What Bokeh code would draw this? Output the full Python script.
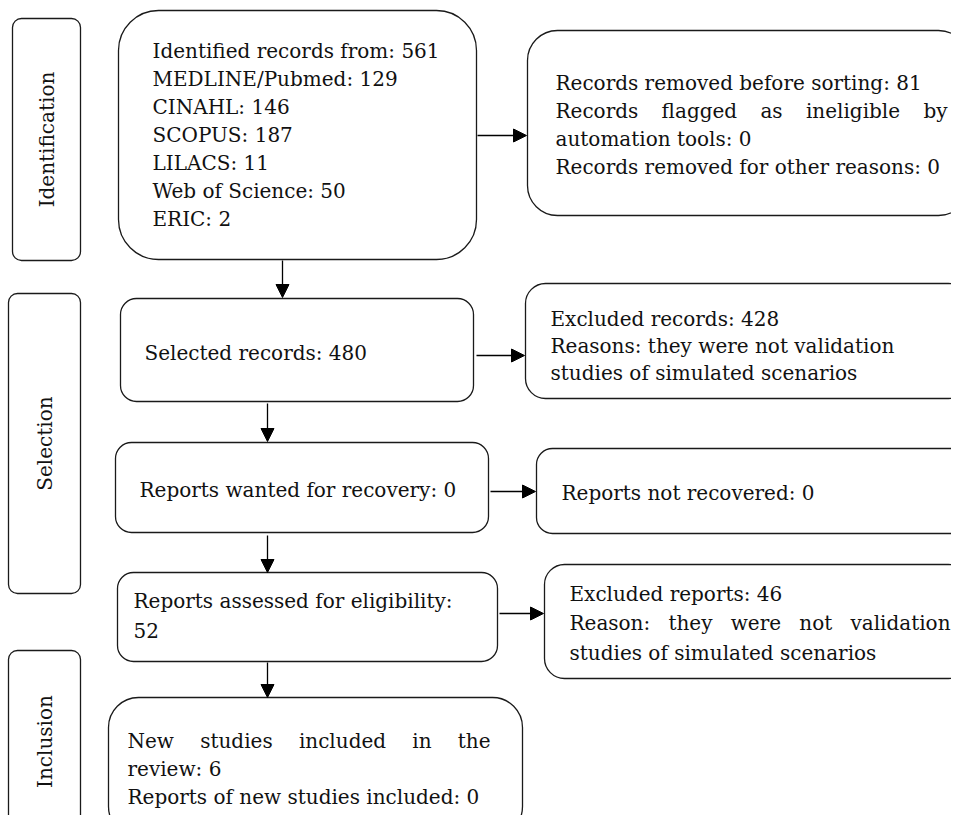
import glob
import math
from bokeh.plotting import figure
from bokeh.models import Range1d, Arrow, NormalHead
from bokeh.core.properties import value
from bokeh.embed import file_html
from bokeh.resources import INLINE

# ---------------- data ----------------
stages = ["Identification", "Selection", "Inclusion"]
identified_total = 561
sources = ["MEDLINE/Pubmed", "CINAHL", "SCOPUS", "LILACS", "Web of Science", "ERIC"]
source_counts = [129, 146, 187, 11, 50, 2]
removed_before = 81
flagged_automation = 0
removed_other = 0
selected_records = 480
excluded_records = 428
reports_wanted = 0
reports_not_recovered = 0
reports_assessed = 52
excluded_reports = 46
new_studies = 6
new_reports = 0

# texts per box: (line, justified)
box_texts = {
    "ident": [(f"Identified records from: {identified_total}", False)]
             + [(f"{s}: {c}", False) for s, c in zip(sources, source_counts)],
    "removed": [(f"Records removed before sorting: {removed_before}", False),
                ("Records flagged as ineligible by", True),
                (f"automation tools: {flagged_automation}", False),
                (f"Records removed for other reasons: {removed_other}", False)],
    "selected": [(f"Selected records: {selected_records}", False)],
    "excl_rec": [(f"Excluded records: {excluded_records}", False),
                 ("Reasons: they were not validation", False),
                 ("studies of simulated scenarios", False)],
    "wanted": [(f"Reports wanted for recovery: {reports_wanted}", False)],
    "notrec": [(f"Reports not recovered: {reports_not_recovered}", False)],
    "assessed": [("Reports assessed for eligibility:", True),
                 (f"{reports_assessed}", False)],
    "excl_rep": [(f"Excluded reports: {excluded_reports}", False),
                 ("Reason: they were not validation", True),
                 ("studies of simulated scenarios", False)],
    "included": [("New studies included in the", True),
                 (f"review: {new_studies}", False),
                 (f"Reports of new studies included: {new_reports}", False)],
}

# ---------------- layout (picture pixels) ----------------
# name: (x0, y0, x1, y1, corner radius)
boxes = {
    "lab_ident": (12, 18, 80, 260, 9),
    "lab_sel": (8, 293, 80, 593, 9),
    "lab_inc": (8, 650, 80, 836, 9),
    "ident": (118, 10, 476, 259, 40),
    "removed": (527, 30, 968, 215, 30),
    "selected": (120, 298, 473, 401, 16),
    "excl_rec": (525, 283, 968, 398, 20),
    "wanted": (115, 442, 488, 532, 16),
    "notrec": (536, 448, 968, 533, 16),
    "assessed": (117, 572, 497, 661, 16),
    "excl_rep": (544, 564, 968, 678, 20),
    "included": (108, 697, 522, 836, 30),
}
# name: (text left, first line centre y, line step, justify right edge)
text_layout = {
    "ident": (152, 50, 28, None),
    "removed": (555, 82, 28.3, 947),
    "selected": (144, 352, 28, None),
    "excl_rec": (550, 318, 27, None),
    "wanted": (139, 489, 28, None),
    "notrec": (561, 492, 28, None),
    "assessed": (133, 600, 30, 443),
    "excl_rep": (569, 593, 29.5, 950),
    "included": (127, 740, 28, 490),
}
label_pos = [(46, 139), (44, 443), (44, 741)]
arrows = [
    ((282, 260), (282, 297)),
    ((477, 135), (526, 135)),
    ((476, 355), (524, 355)),
    ((267, 403), (267, 441)),
    ((490, 491), (535, 491)),
    ((267, 535), (267, 572)),
    ((499, 613), (543, 613)),
    ((267, 662), (267, 697)),
]

FONT = "DejaVu Serif"
FS = 20
INK = "#111111"

_pil = None
try:
    from PIL import ImageFont
    try:
        _pil = ImageFont.truetype("DejaVuSerif.ttf", FS)
    except Exception:
        cands = glob.glob("/usr/share/fonts/**/DejaVuSerif.ttf", recursive=True)
        if cands:
            _pil = ImageFont.truetype(cands[0], FS)
except Exception:
    _pil = None


def tw(s):
    if _pil is not None:
        return _pil.getlength(s)
    return 0.56 * FS * len(s)


p = figure(width=951, height=815, x_range=Range1d(0, 951), y_range=Range1d(-815, 0),
           output_backend="svg", toolbar_location=None, min_border=0,
           x_axis_type=None, y_axis_type=None)
p.grid.visible = False
p.outline_line_color = None
p.background_fill_color = "white"
p.border_fill_color = "white"

for name, (x0, y0, x1, y1, r) in boxes.items():
    p.quad(left=[x0], right=[x1], top=[-y0], bottom=[-y1], fill_color="white",
           line_color="#1a1a1a", line_width=1.3, border_radius=r)

for (xs, ys), (xe, ye) in arrows:
    p.add_layout(Arrow(end=NormalHead(size=13, fill_color="black", line_color="black", line_width=1),
                       x_start=xs, y_start=-ys, x_end=xe, y_end=-ye,
                       line_color="black", line_width=1.3))

tx, ty, tt = [], [], []
for name, lines in box_texts.items():
    left, y0, dy, right = text_layout[name]
    for i, (line, just) in enumerate(lines):
        y = -(y0 + i * dy)
        if just and right is not None:
            words = line.split(" ")
            widths = [tw(w) for w in words]
            space = tw(" ")
            gap = max(space, (right - left - sum(widths)) / (len(words) - 1))
            x = left
            for w, wd in zip(words, widths):
                tx.append(x); ty.append(y); tt.append(w)
                x += wd + gap
        else:
            tx.append(left); ty.append(y); tt.append(line)

p.text(x=tx, y=ty, text=tt, text_font=value(FONT), text_font_size=f"{FS}px",
       text_align="left", text_baseline="middle", text_color=INK)

p.text(x=[c[0] for c in label_pos], y=[-c[1] for c in label_pos], text=stages,
       angle=math.pi / 2, text_font=value(FONT), text_font_size=f"{FS}px",
       text_align="center", text_baseline="middle", text_color=INK)

open("out.html", "w").write(file_html(p, INLINE))
